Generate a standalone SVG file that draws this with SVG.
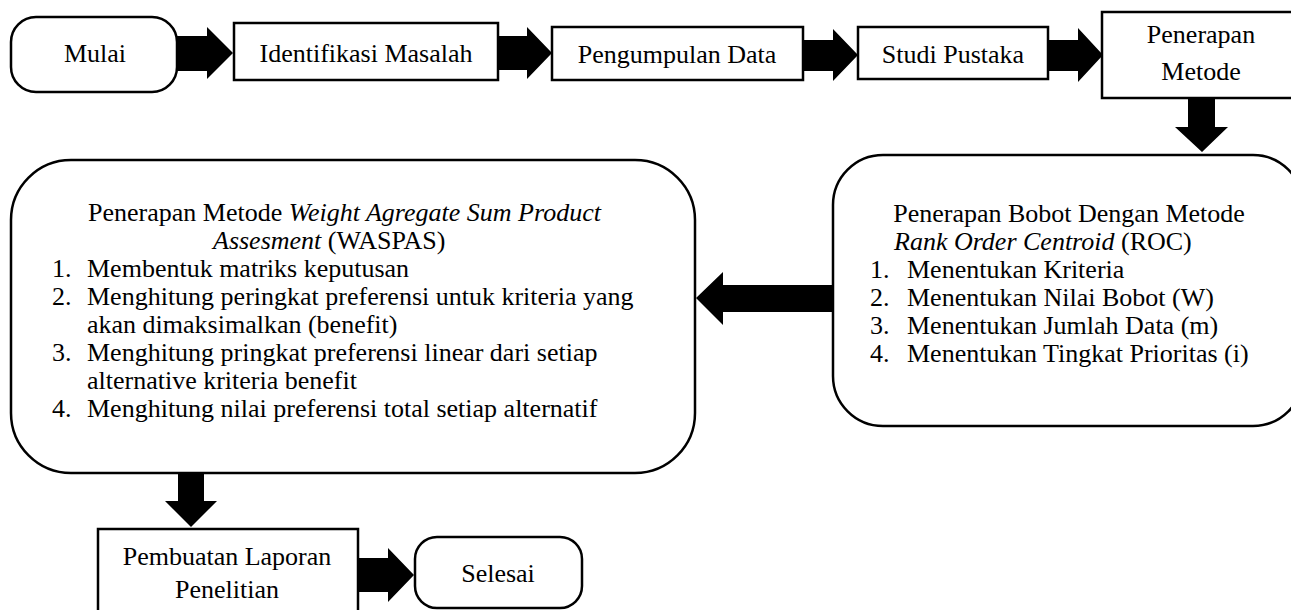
<svg xmlns="http://www.w3.org/2000/svg" width="1291" height="610" viewBox="0 0 1291 610">
<style>
.box{fill:#fff;stroke:#000;stroke-width:2.5}
.t{font-family:"Liberation Serif","Times New Roman",serif;font-size:26px;fill:#000}
.c{text-anchor:middle}
.i{font-style:italic}
.arr{fill:#000;stroke:none}
</style>
<rect width="1291" height="610" fill="#fff"/>
<g id="connectors">
<polygon class="arr" points="177,36 207,36 207,27 233,53 207,79 207,71 177,71"/>
<polygon class="arr" points="498,36 527,36 527,27 552,53 527,79 527,70 498,70"/>
<polygon class="arr" points="803,40 833,40 833,29 858,55 833,81 833,71 803,71"/>
<polygon class="arr" points="1048,40 1078,40 1078,28 1103,55 1078,82 1078,71 1048,71"/>
<polygon class="arr" points="1188,98 1215,98 1215,127 1228,127 1202,152 1175,127 1188,127"/>
<polygon class="arr" points="833,285 723,285 723,272 696,298 723,325 723,312 833,312"/>
<polygon class="arr" points="178,473 204,473 204,501 217,501 191,527 165,501 178,501"/>
<polygon class="arr" points="358,558 388,558 388,548 414,575 388,602 388,592 358,592"/>
</g>
<g id="mulai">
<rect class="box" x="11" y="17" width="166" height="75" rx="25"/>
<text class="t c" x="95" y="62">Mulai</text>
</g>
<g id="identifikasi">
<rect class="box" x="234" y="23" width="264" height="57"/>
<text class="t c" x="366" y="62">Identifikasi Masalah</text>
</g>
<g id="pengumpulan">
<rect class="box" x="552" y="27" width="251" height="53"/>
<text class="t c" x="677" y="63">Pengumpulan Data</text>
</g>
<g id="studi">
<rect class="box" x="858" y="27" width="190" height="52"/>
<text class="t c" x="953" y="63">Studi Pustaka</text>
</g>
<g id="penerapan">
<rect class="box" x="1102" y="12" width="200" height="86"/>
<text class="t c" x="1201" y="43">Penerapan</text>
<text class="t c" x="1201" y="80">Metode</text>
</g>
<g id="roc">
<rect class="box" x="833" y="155" width="470" height="271" rx="50"/>
<text class="t c" x="1069" y="222">Penerapan Bobot Dengan Metode</text>
<text class="t" x="894" y="250"><tspan class="i">Rank Order Centroid</tspan> (ROC)</text>
<text class="t" x="870" y="278">1.</text><text class="t" x="907" y="278">Menentukan Kriteria</text>
<text class="t" x="870" y="306">2.</text><text class="t" x="907" y="306">Menentukan Nilai Bobot (W)</text>
<text class="t" x="870" y="334">3.</text><text class="t" x="907" y="334">Menentukan Jumlah Data (m)</text>
<text class="t" x="870" y="362">4.</text><text class="t" x="907" y="362">Menentukan Tingkat Prioritas (i)</text>
</g>
<g id="waspas">
<rect class="box" x="11" y="160" width="684" height="313" rx="60"/>
<text class="t" x="88" y="221">Penerapan Metode <tspan class="i">Weight Agregate Sum Product</tspan></text>
<text class="t" x="213" y="249"><tspan class="i">Assesment</tspan> (WASPAS)</text>
<text class="t" x="52" y="277">1.</text><text class="t" x="87" y="277">Membentuk matriks keputusan</text>
<text class="t" x="52" y="305">2.</text><text class="t" x="87" y="305">Menghitung peringkat preferensi untuk kriteria yang</text>
<text class="t" x="87" y="333">akan dimaksimalkan (benefit)</text>
<text class="t" x="52" y="361">3.</text><text class="t" x="87" y="361">Menghitung pringkat preferensi linear dari setiap</text>
<text class="t" x="87" y="389">alternative kriteria benefit</text>
<text class="t" x="52" y="417">4.</text><text class="t" x="87" y="417">Menghitung nilai preferensi total setiap alternatif</text>
</g>
<g id="pembuatan">
<rect class="box" x="98" y="529" width="260" height="100"/>
<text class="t c" x="227" y="565">Pembuatan Laporan</text>
<text class="t c" x="227" y="598">Penelitian</text>
</g>
<g id="selesai">
<rect class="box" x="415" y="537" width="167" height="71" rx="22"/>
<text class="t c" x="498" y="582">Selesai</text>
</g>
</svg>
